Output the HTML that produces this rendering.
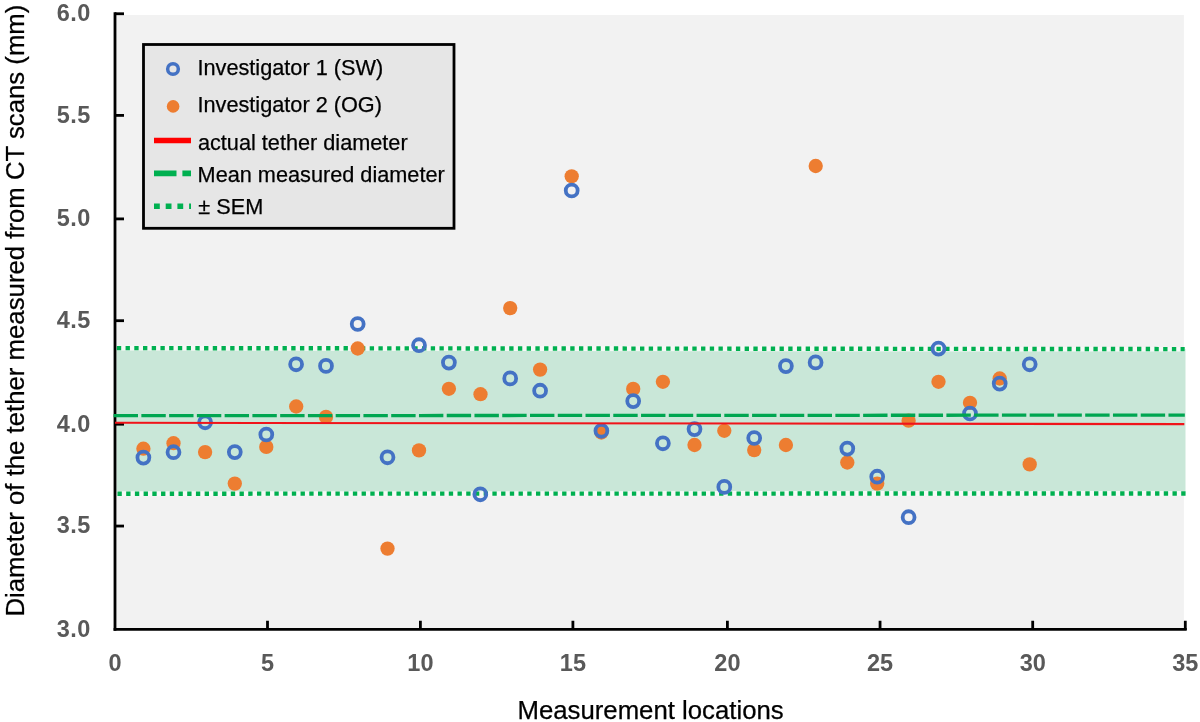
<!DOCTYPE html>
<html><head><meta charset="utf-8"><title>Chart</title>
<style>
html,body{margin:0;padding:0;background:#fff;}
body{width:1200px;height:722px;overflow:hidden;font-family:"Liberation Sans",sans-serif;}
svg{display:block;will-change:transform;}
text{font-family:"Liberation Sans",sans-serif;}
.tk{font-weight:bold;font-size:23.5px;fill:#595959;}
.lg{font-size:21.7px;fill:#000;stroke:#000;stroke-width:0.25px;}
.ax{font-size:25.75px;fill:#000;stroke:#000;stroke-width:0.25px;}
</style></head><body>
<svg width="1200" height="722" viewBox="0 0 1200 722">
<rect x="0" y="0" width="1200" height="722" fill="#ffffff"/>
<!-- plot background -->
<rect x="115" y="15" width="1068.9" height="614" fill="#f2f2f2"/>
<!-- SEM band -->
<polygon points="116.5,348.1 1185.5,349.1 1185.5,493.5 116.5,493.7" fill="#c9e7d8"/>
<!-- halo under dotted lines -->
<line x1="116.5" y1="348.1" x2="1185.0" y2="349.1" stroke="#f6f9f7" stroke-width="5.0"/>
<line x1="116.5" y1="493.7" x2="1185.8" y2="493.5" stroke="#f6f9f7" stroke-width="5.0"/>
<!-- dotted SEM lines -->
<line x1="116.85" y1="348.1" x2="1184.7" y2="349.1" stroke="#00b050" stroke-width="4.4" stroke-dasharray="4.35 4.3693"/>
<line x1="117.45" y1="493.7" x2="1185.8" y2="493.5" stroke="#00b050" stroke-width="4.4" stroke-dasharray="4.35 4.3693"/>

<g stroke="#000" stroke-width="2.8" fill="none">
<line x1="115.0" y1="12.35" x2="115.0" y2="630.8"/>
<line x1="113.6" y1="629.4" x2="1186.7" y2="629.4"/>
<line x1="115" y1="13.75" x2="124" y2="13.75"/>
<line x1="115" y1="115.40" x2="124" y2="115.40"/>
<line x1="115" y1="218.90" x2="124" y2="218.90"/>
<line x1="115" y1="320.70" x2="124" y2="320.70"/>
<line x1="115" y1="424.20" x2="124" y2="424.20"/>
<line x1="115" y1="526.05" x2="124" y2="526.05"/>
<line x1="267.50" y1="620.75" x2="267.50" y2="630"/>
<line x1="420.40" y1="620.75" x2="420.40" y2="630"/>
<line x1="572.90" y1="620.75" x2="572.90" y2="630"/>
<line x1="727.40" y1="620.75" x2="727.40" y2="630"/>
<line x1="880.05" y1="620.75" x2="880.05" y2="630"/>
<line x1="1032.70" y1="620.75" x2="1032.70" y2="630"/>
<line x1="1185.30" y1="620.75" x2="1185.30" y2="630"/>
</g>
<text class="tk" x="91.0" y="20.60" text-anchor="end" letter-spacing="0.55">6.0</text>
<text class="tk" x="91.0" y="122.60" text-anchor="end" letter-spacing="0.55">5.5</text>
<text class="tk" x="91.0" y="225.90" text-anchor="end" letter-spacing="0.55">5.0</text>
<text class="tk" x="91.0" y="328.30" text-anchor="end" letter-spacing="0.55">4.5</text>
<text class="tk" x="91.0" y="431.90" text-anchor="end" letter-spacing="0.55">4.0</text>
<text class="tk" x="91.0" y="532.90" text-anchor="end" letter-spacing="0.55">3.5</text>
<text class="tk" x="91.0" y="637.20" text-anchor="end" letter-spacing="0.55">3.0</text>
<text class="tk" x="115.00" y="670.7" text-anchor="middle">0</text>
<text class="tk" x="267.50" y="670.7" text-anchor="middle">5</text>
<text class="tk" x="420.40" y="670.7" text-anchor="middle">10</text>
<text class="tk" x="572.90" y="670.7" text-anchor="middle">15</text>
<text class="tk" x="727.40" y="670.7" text-anchor="middle">20</text>
<text class="tk" x="880.05" y="670.7" text-anchor="middle">25</text>
<text class="tk" x="1032.70" y="670.7" text-anchor="middle">30</text>
<text class="tk" x="1185.30" y="670.7" text-anchor="middle">35</text>
<text class="ax" x="650.6" y="719.0" text-anchor="middle">Measurement locations</text>
<text class="ax" transform="translate(24.45,310.6) rotate(-90)" text-anchor="middle">Diameter of the tether measured from CT scans (mm)</text>
<g fill="#ed7d31">
<circle cx="143.4" cy="448.7" r="7.15"/>
<circle cx="173.5" cy="443.2" r="7.15"/>
<circle cx="205.1" cy="452.1" r="7.15"/>
<circle cx="234.8" cy="483.6" r="7.15"/>
<circle cx="266.3" cy="446.9" r="7.15"/>
<circle cx="296.2" cy="406.5" r="7.15"/>
<circle cx="326.0" cy="416.9" r="7.15"/>
<circle cx="357.7" cy="348.5" r="7.15"/>
<circle cx="387.5" cy="548.6" r="7.15"/>
<circle cx="419.0" cy="450.4" r="7.15"/>
<circle cx="448.9" cy="388.8" r="7.15"/>
<circle cx="480.5" cy="394.2" r="7.15"/>
<circle cx="510.2" cy="308.1" r="7.15"/>
<circle cx="540.1" cy="369.6" r="7.15"/>
<circle cx="571.7" cy="176.3" r="7.15"/>
<circle cx="601.4" cy="432.5" r="7.15"/>
<circle cx="633.2" cy="388.9" r="7.15"/>
<circle cx="662.9" cy="381.8" r="7.15"/>
<circle cx="694.5" cy="445.0" r="7.15"/>
<circle cx="724.3" cy="430.8" r="7.15"/>
<circle cx="754.2" cy="450.1" r="7.15"/>
<circle cx="785.9" cy="445.0" r="7.15"/>
<circle cx="815.7" cy="166.0" r="7.15"/>
<circle cx="847.3" cy="462.5" r="7.15"/>
<circle cx="877.2" cy="483.6" r="7.15"/>
<circle cx="908.6" cy="420.7" r="7.15"/>
<circle cx="938.5" cy="381.8" r="7.15"/>
<circle cx="970.0" cy="402.8" r="7.15"/>
<circle cx="999.7" cy="378.5" r="7.15"/>
<circle cx="1029.7" cy="464.4" r="7.15"/>
</g>
<g fill="none" stroke="#4472c4" stroke-width="3.8">
<circle cx="143.4" cy="457.6" r="5.95"/>
<circle cx="173.5" cy="452.2" r="5.95"/>
<circle cx="205.1" cy="422.3" r="5.95"/>
<circle cx="234.8" cy="452.1" r="5.95"/>
<circle cx="266.3" cy="434.5" r="5.95"/>
<circle cx="296.1" cy="364.3" r="5.95"/>
<circle cx="326.0" cy="365.9" r="5.95"/>
<circle cx="357.7" cy="324.0" r="5.95"/>
<circle cx="387.5" cy="457.3" r="5.95"/>
<circle cx="419.0" cy="345.2" r="5.95"/>
<circle cx="448.9" cy="362.6" r="5.95"/>
<circle cx="480.3" cy="494.3" r="5.95"/>
<circle cx="510.2" cy="378.4" r="5.95"/>
<circle cx="540.1" cy="390.7" r="5.95"/>
<circle cx="571.7" cy="190.5" r="5.95"/>
<circle cx="601.4" cy="430.8" r="5.95"/>
<circle cx="633.2" cy="401.1" r="5.95"/>
<circle cx="662.9" cy="443.3" r="5.95"/>
<circle cx="694.5" cy="429.1" r="5.95"/>
<circle cx="724.3" cy="486.9" r="5.95"/>
<circle cx="754.2" cy="438.0" r="5.95"/>
<circle cx="785.9" cy="366.1" r="5.95"/>
<circle cx="815.6" cy="362.4" r="5.95"/>
<circle cx="847.3" cy="448.6" r="5.95"/>
<circle cx="877.2" cy="476.7" r="5.95"/>
<circle cx="908.6" cy="517.2" r="5.95"/>
<circle cx="938.5" cy="348.6" r="5.95"/>
<circle cx="970.0" cy="413.5" r="5.95"/>
<circle cx="999.7" cy="383.6" r="5.95"/>
<circle cx="1029.7" cy="364.3" r="5.95"/>
</g>
<line x1="113.6" y1="415.7" x2="1184.8" y2="415.1" stroke="#00a651" stroke-width="3.3" stroke-dasharray="24.4 3.36"/>
<line x1="115" y1="422.8" x2="1184.3" y2="424.1" stroke="#f0141a" stroke-width="2.05"/>
<rect x="143.5" y="44.5" width="310.5" height="183.8" fill="#e6e6e6" stroke="#000" stroke-width="2.8"/>
<circle cx="173" cy="69" r="5.35" fill="none" stroke="#4472c4" stroke-width="3.5"/>
<circle cx="173.1" cy="106.4" r="6.3" fill="#ed7d31"/>
<line x1="154" y1="140.5" x2="191" y2="140.5" stroke="#ff0000" stroke-width="5.6"/>
<line x1="154" y1="173.4" x2="191" y2="173.4" stroke="#00b050" stroke-width="5.8" stroke-dasharray="22.5 5.9"/>
<line x1="154" y1="206.3" x2="191" y2="206.3" stroke="#00b050" stroke-width="5.4" stroke-dasharray="5.8 5.9"/>
<text class="lg" x="197.5" y="74.7">Investigator 1 (SW)</text>
<text class="lg" x="197.5" y="112">Investigator 2 (OG)</text>
<text class="lg" x="197.9" y="149.75">actual tether diameter</text>
<text class="lg" x="197.6" y="181.8">Mean measured diameter</text>
<text class="lg" x="198.3" y="214.1">± SEM</text>
</svg></body></html>
